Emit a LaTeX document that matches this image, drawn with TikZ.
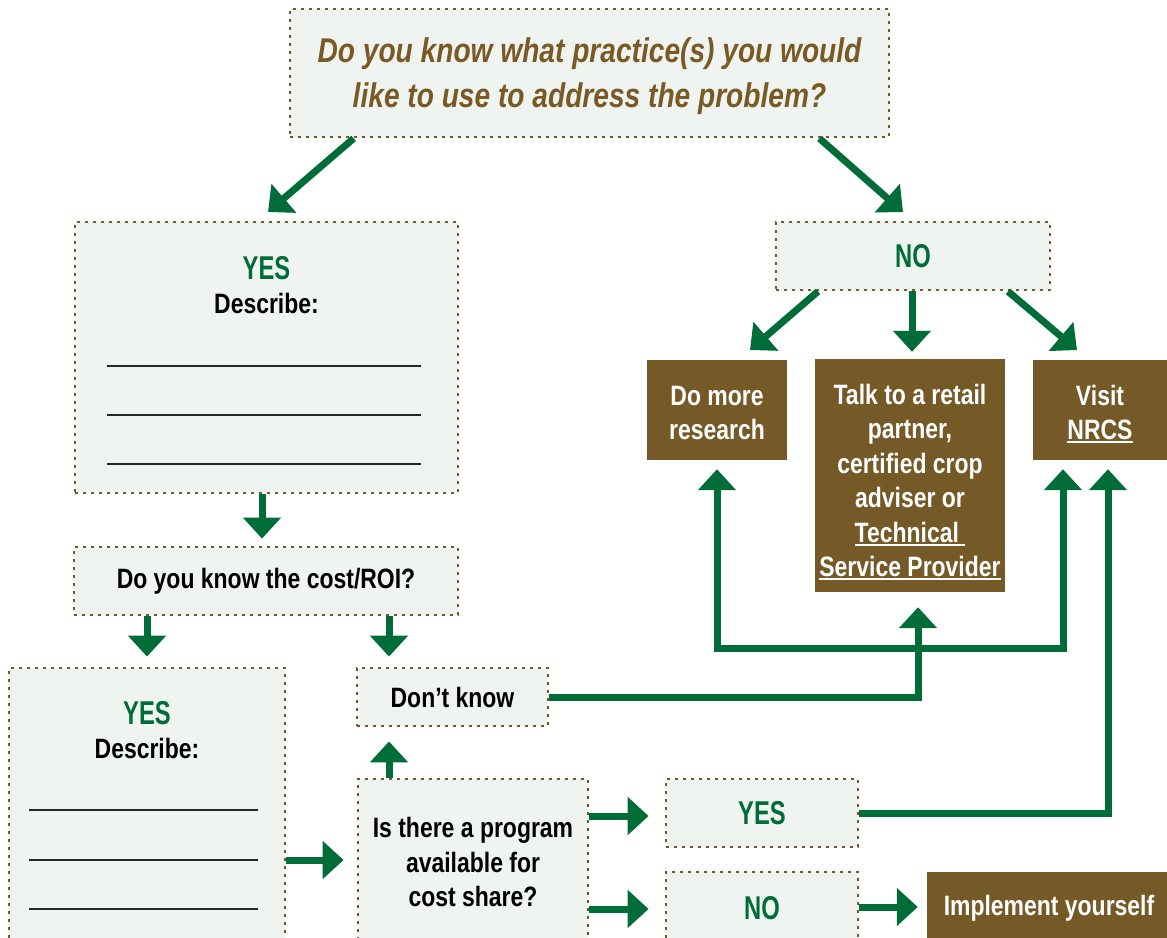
\documentclass[tikz,border=0pt]{standalone}
\usepackage{fontspec}
\setmainfont{Liberation Sans}[FakeStretch=0.82]
\newfontfamily\narrowf{Liberation Sans}[FakeStretch=0.72]
\usetikzlibrary{arrows.meta}
\definecolor{grn}{HTML}{006D38}
\definecolor{brn}{HTML}{755926}
\definecolor{lfill}{HTML}{EFF4F0}
\definecolor{dotc}{HTML}{765828}
\definecolor{ttl}{HTML}{7A5A24}
\newcommand\bodyf{\fontsize{28pt}{34.5pt}\selectfont\bfseries}
\newcommand\bigf{\narrowf\fontsize{33pt}{36pt}\selectfont\bfseries}
\newcommand\mywul[1]{\setbox0\hbox{#1}\rlap{\rule[-3.5pt]{\wd0}{1.8pt}}\box0}
\tikzset{
  lbox/.style={rectangle, fill=lfill, draw=dotc, line width=2.8pt, dash pattern=on 2.8pt off 5.2pt, inner sep=0pt, align=center, font=\bodyf},
  bbox/.style={rectangle, fill=brn, text=white, inner sep=0pt, align=center, font=\bodyf},
  garrow/.style={draw=grn, line width=7pt, -{Triangle[length=21pt,width=37pt]}},
  wline/.style={draw=black!85, line width=1.8pt},
  gtxt/.style={text=grn, font=\bigf, inner sep=0pt},
  ktxt/.style={text=black, font=\bodyf, inner sep=0pt},
  wtxt/.style={text=white, font=\bodyf, inner sep=0pt, align=center},
}
\begin{document}
\begin{tikzpicture}[x=1pt,y=-1pt]
\useasboundingbox (0,0) rectangle (1167,937);
% boxes
\node[lbox, minimum width=599pt, minimum height=128pt] (top) at (589.5,73) {};
\node[text=ttl, font=\fontsize{34.3pt}{45pt}\selectfont\bfseries\itshape, align=center, inner sep=0pt] (topt) at (589.5,76) {Do you know what practice(s) you would\\like to use to address the problem?};
\node[lbox, minimum width=383pt, minimum height=271pt] (yes1) at (266.5,357.5) {};
\node[gtxt] (yes1t) at (266.5,268) {YES};
\node[ktxt] (yes1d) at (266.5,303) {Describe:};
\node[lbox, minimum width=384pt, minimum height=68pt] (cost) at (266,581) {Do you know the cost/ROI?};
\node[lbox, minimum width=276pt, minimum height=277pt] (yes2) at (147,806.5) {};
\node[gtxt] (yes2t) at (147,713) {YES};
\node[ktxt] (yes2d) at (147,748) {Describe:};
\node[lbox, minimum width=191pt, minimum height=58pt] (dk) at (452.5,697) {Don’t know};
\node[lbox, minimum width=230pt, minimum height=166pt] (prog) at (473,862) {Is there a program\\available for\\cost share?};
\node[lbox, minimum width=192pt, minimum height=68pt, text=grn, font=\bigf] (yes3) at (762,813) {YES};
\node[lbox, minimum width=192pt, minimum height=73pt, text=grn, font=\bigf] (no2) at (762,908.5) {NO};
\node[bbox, minimum width=244pt, minimum height=73pt] (impl) at (1049,908.5) {Implement yourself};
\node[lbox, minimum width=274pt, minimum height=68pt, text=grn, font=\bigf] (no1) at (913,256) {NO};
\node[bbox, minimum width=140pt, minimum height=100pt] (res) at (717,410) {};
\node[wtxt] (rest) at (717,413) {Do more\\research};
\node[bbox, minimum width=190pt, minimum height=233pt] (talk) at (910,475.5) {};
\node[wtxt] (talkt) at (910,482) {Talk to a retail\\partner,\\certified crop\\adviser or\\\mywul{Technical\ }\\\mywul{Service Provider}};
\node[bbox, minimum width=134pt, minimum height=100pt] (visit) at (1100,410) {};
\node[wtxt] (visitt) at (1100,414) {Visit\\\mywul{NRCS}};
% writing lines
\draw[wline] (107,366) -- (421,366) (107,415) -- (421,415) (107,464) -- (421,464);
\draw[wline] (29,810) -- (258,810) (29,860) -- (258,860) (29,909) -- (258,909);
% connectors
\coordinate (t1) at (268,212);
\coordinate (t2) at (903,212);
\coordinate (t3) at (750,350);
\coordinate (t4) at (1077,350);
\coordinate (loopL) at (717,648);
\coordinate (loopR) at (1063,648);
\draw[garrow] ([xshift=65pt]top.south west) -- (t1);
\draw[garrow] ([xshift=-71pt]top.south east) -- (t2);
\draw[garrow, shorten >=7pt] ([xshift=-4.5pt]yes1.south) -- ([xshift=-4.5pt]yes1.south |- cost.north);
\draw[garrow, shorten >=10pt] (cost.south -| yes2.north) -- (yes2.north);
\draw[garrow, shorten >=10pt] (cost.south -| 389,0) -- (dk.north -| 389,0);
\draw[garrow, shorten >=13pt] (yes2.east |- 0,860) -- (prog.west |- 0,860);
\draw[garrow, shorten >=14pt] (prog.north -| 389,0) -- (dk.south -| 389,0);
\draw[garrow, shorten >=16pt] (prog.east |- 0,816) -- (yes3.west |- 0,816);
\draw[garrow, shorten >=16pt] (prog.east |- 0,909) -- (no2.west |- 0,909);
\draw[garrow, shorten >=9pt] (no2.east |- 0,907) -- (impl.west |- 0,907);
\draw[garrow] ([xshift=-95pt]no1.south) -- (t3);
\draw[garrow, shorten >=7pt] ([xshift=-1pt]no1.south) -- ([xshift=-1pt]no1.south |- talk.north);
\draw[garrow] ([xshift=95pt]no1.south) -- (t4);
\draw[garrow, shorten >=15pt] (dk.east) -| ([xshift=8pt]talk.south);
\draw[garrow, shorten >=9pt] ([xshift=3.5pt]loopR) -- (loopL) -- (res.south);
\draw[garrow, shorten >=9pt] (loopR) -- (loopR |- visit.south);
\draw[garrow, shorten >=9pt] (yes3.east) -| ([xshift=8pt]visit.south);
\end{tikzpicture}
\end{document}
